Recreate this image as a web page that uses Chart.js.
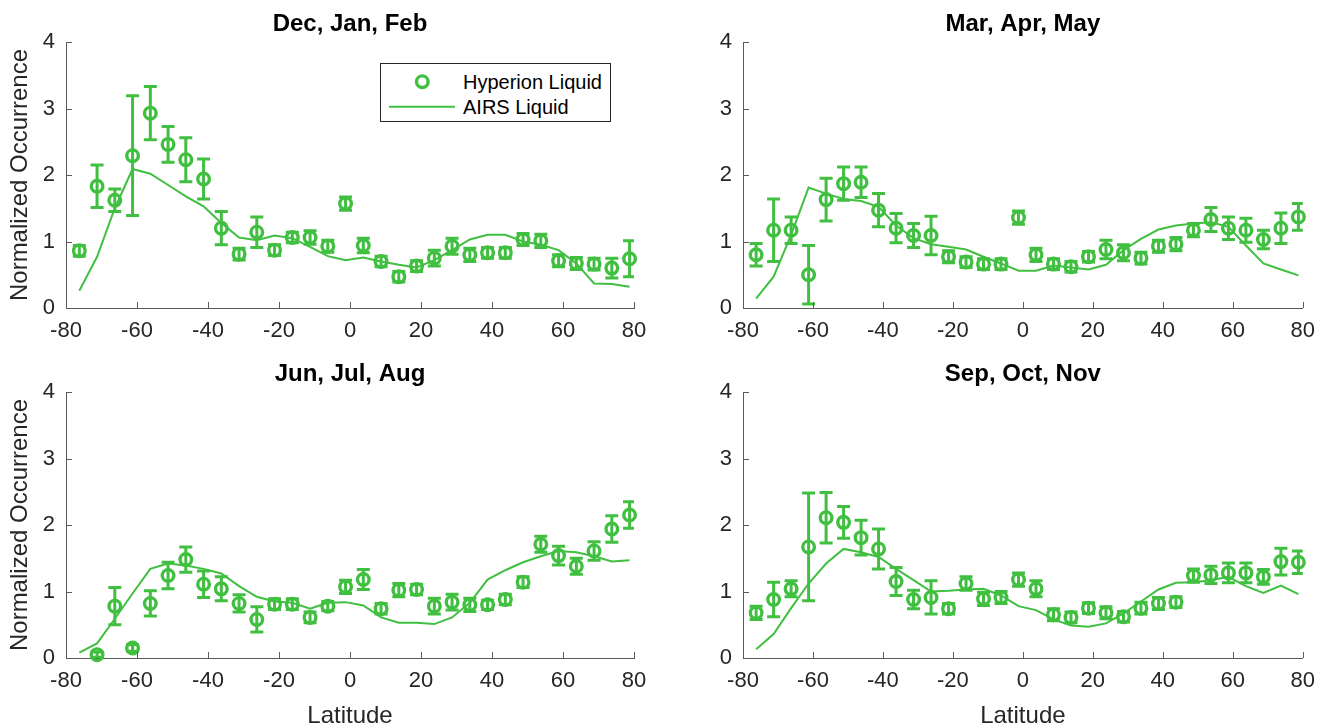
<!DOCTYPE html>
<html>
<head>
<meta charset="utf-8">
<script src="https://cdn.jsdelivr.net/npm/chart.js@4.4.1/dist/chart.umd.min.js"></script>
<style>
  html, body { margin: 0; padding: 0; background: #fff; overflow: hidden; }
  body { width: 1325px; height: 727px; position: relative; font-family: "Liberation Sans", Arial, Helvetica, sans-serif; }
  canvas { position: absolute; }
  #legend { position: absolute; left: 380px; top: 63px; width: 231px; height: 59px; box-sizing: border-box;
            border: 1px solid #262626; background: #fff; font-size: 20px; color: #000; }
  #legend svg { position: absolute; left: 0; top: 0; }
  #legend span { position: absolute; left: 82px; line-height: 24px; white-space: nowrap; }
</style>
</head>
<body>
<canvas id="djf" width="662" height="363" style="left:0;top:0"></canvas>
<canvas id="mam" width="635" height="363" style="left:690px;top:0"></canvas>
<canvas id="jja" width="662" height="377" style="left:0;top:350px"></canvas>
<canvas id="son" width="635" height="377" style="left:690px;top:350px"></canvas>

<div id="legend">
  <svg width="229" height="57">
    <circle cx="41.3" cy="17.7" r="5.8" fill="none" stroke="#40bf40" stroke-width="3.4"></circle>
    <line x1="8" y1="42.7" x2="74" y2="42.7" stroke="#40bf40" stroke-width="2"></line>
  </svg>
  <span style="top:5.7px">Hyperion Liquid</span>
  <span style="top:30.7px">AIRS Liquid</span>
</div>

<script>
// latitude bin centres
var lat = [-76.25, -71.25, -66.25, -61.25, -56.25, -51.25, -46.25, -41.25, -36.25, -31.25, -26.25,
           -21.25, -16.25, -11.25, -6.25, -1.25, 3.75, 8.75, 13.75, 18.75, 23.75, 28.75, 33.75,
           38.75, 43.75, 48.75, 53.75, 58.75, 63.75, 68.75, 73.75, 78.75];

// Dec, Jan, Feb
var djfHyperion = [0.86, 1.83, 1.62, 2.29, 2.93, 2.46, 2.23, 1.94, 1.20, 0.81, 1.14, 0.87, 1.06, 1.06, 0.93, 1.57,
                   0.94, 0.70, 0.47, 0.63, 0.75, 0.93, 0.80, 0.83, 0.83, 1.03, 1.01, 0.71, 0.67, 0.66, 0.60, 0.74];
var djfError    = [0.08, 0.32, 0.17, 0.90, 0.40, 0.27, 0.33, 0.30, 0.25, 0.09, 0.23, 0.08, 0.08, 0.10, 0.09, 0.10,
                   0.11, 0.08, 0.08, 0.08, 0.12, 0.12, 0.10, 0.08, 0.08, 0.09, 0.10, 0.09, 0.09, 0.09, 0.15, 0.27];
var djfAirs     = [0.26, 0.77, 1.50, 2.09, 2.02, 1.85, 1.68, 1.53, 1.28, 1.06, 1.02, 1.09, 1.05, 0.92, 0.78, 0.72,
                   0.76, 0.70, 0.65, 0.61, 0.72, 0.87, 1.03, 1.10, 1.10, 1.00, 0.95, 0.87, 0.67, 0.37, 0.36, 0.32];

// Mar, Apr, May
var mamHyperion = [0.80, 1.17, 1.17, 0.50, 1.63, 1.87, 1.89, 1.47, 1.20, 1.09, 1.09, 0.77, 0.69, 0.66, 0.66, 1.36,
                   0.80, 0.66, 0.62, 0.77, 0.88, 0.83, 0.75, 0.93, 0.96, 1.17, 1.33, 1.20, 1.17, 1.03, 1.20, 1.37];
var mamError    = [0.17, 0.47, 0.20, 0.44, 0.32, 0.25, 0.23, 0.25, 0.22, 0.18, 0.29, 0.09, 0.08, 0.08, 0.08, 0.10,
                   0.10, 0.08, 0.08, 0.08, 0.14, 0.12, 0.09, 0.09, 0.10, 0.10, 0.18, 0.17, 0.18, 0.14, 0.23, 0.20];
var mamAirs     = [0.14, 0.47, 1.10, 1.81, 1.72, 1.64, 1.61, 1.52, 1.24, 1.05, 0.96, 0.92, 0.88, 0.77, 0.67, 0.56,
                   0.56, 0.64, 0.61, 0.58, 0.65, 0.87, 1.04, 1.18, 1.24, 1.27, 1.29, 1.22, 0.94, 0.67, 0.58, 0.49];

// Jun, Jul, Aug
var jjaHyperion = [null, 0.05, 0.78, 0.15, 0.82, 1.24, 1.48, 1.11, 1.04, 0.82, 0.58, 0.81, 0.81, 0.61, 0.78, 1.07,
                   1.18, 0.74, 1.02, 1.03, 0.78, 0.84, 0.80, 0.80, 0.88, 1.14, 1.71, 1.54, 1.38, 1.61, 1.94, 2.15];
var jjaError    = [null, 0.04, 0.28, 0.05, 0.19, 0.20, 0.19, 0.20, 0.18, 0.13, 0.19, 0.08, 0.08, 0.08, 0.07, 0.10,
                   0.15, 0.08, 0.10, 0.08, 0.12, 0.12, 0.10, 0.07, 0.08, 0.08, 0.12, 0.14, 0.12, 0.14, 0.20, 0.20];
var jjaAirs     = [0.08, 0.22, 0.59, 0.97, 1.34, 1.42, 1.39, 1.34, 1.27, 1.08, 0.92, 0.85, 0.83, 0.74, 0.83, 0.84,
                   0.79, 0.61, 0.53, 0.53, 0.51, 0.61, 0.83, 1.18, 1.32, 1.44, 1.53, 1.61, 1.59, 1.53, 1.45, 1.47];

// Sep, Oct, Nov
var sonHyperion = [0.68, 0.88, 1.04, 1.67, 2.11, 2.04, 1.81, 1.64, 1.15, 0.88, 0.91, 0.74, 1.12, 0.89, 0.91, 1.18,
                   1.04, 0.65, 0.61, 0.75, 0.68, 0.62, 0.75, 0.82, 0.84, 1.24, 1.25, 1.28, 1.28, 1.22, 1.45, 1.44];
var sonError    = [0.10, 0.26, 0.12, 0.81, 0.38, 0.24, 0.26, 0.30, 0.21, 0.14, 0.25, 0.08, 0.10, 0.10, 0.09, 0.10,
                   0.12, 0.09, 0.08, 0.08, 0.09, 0.08, 0.09, 0.09, 0.08, 0.10, 0.13, 0.15, 0.15, 0.11, 0.20, 0.17];
var sonAirs     = [0.13, 0.36, 0.75, 1.12, 1.42, 1.64, 1.59, 1.52, 1.34, 1.17, 1.00, 1.01, 1.03, 1.04, 0.94, 0.78,
                   0.72, 0.58, 0.49, 0.47, 0.52, 0.67, 0.85, 1.03, 1.13, 1.14, 1.17, 1.22, 1.08, 0.98, 1.09, 0.96];

var green = '#40bf40';
var axisColor = '#5a5a5a';
var textColor = '#262626';

Chart.defaults.font.family = '"Liberation Sans", Arial, Helvetica, sans-serif';
Chart.defaults.color = textColor;

// vertical error bars with caps, drawn under the markers
var errorBars = {
  id: 'errorBars',
  beforeDatasetsDraw: function (chart) {
    var ctx = chart.ctx, a = chart.chartArea, y = chart.scales.y;
    ctx.save();
    ctx.beginPath();
    ctx.rect(a.left, a.top, a.right - a.left, a.bottom - a.top);
    ctx.clip();
    ctx.strokeStyle = green;
    ctx.lineWidth = 3;
    chart.data.datasets.forEach(function (ds, di) {
      if (!ds.errors) return;
      chart.getDatasetMeta(di).data.forEach(function (pt, i) {
        var v = ds.data[i].y, e = ds.errors[i];
        if (v == null || e == null) return;
        var top = y.getPixelForValue(v + e), bot = y.getPixelForValue(v - e);
        ctx.beginPath();
        ctx.moveTo(pt.x, top); ctx.lineTo(pt.x, bot);
        ctx.moveTo(pt.x - 6.5, top); ctx.lineTo(pt.x + 6.5, top);
        ctx.moveTo(pt.x - 6.5, bot); ctx.lineTo(pt.x + 6.5, bot);
        ctx.stroke();
      });
    });
    ctx.restore();
  }
};

// matlab style ticks pointing into the plot
var innerTicks = {
  id: 'innerTicks',
  afterDraw: function (chart) {
    var ctx = chart.ctx, a = chart.chartArea, x = chart.scales.x, y = chart.scales.y;
    ctx.save();
    ctx.strokeStyle = axisColor;
    ctx.lineWidth = 1;
    ctx.beginPath();
    x.ticks.forEach(function (t) {
      var px = Math.round(x.getPixelForValue(t.value)) + 0.5;
      ctx.moveTo(px, a.bottom); ctx.lineTo(px, a.bottom - 6);
    });
    y.ticks.forEach(function (t) {
      var py = Math.round(y.getPixelForValue(t.value)) + 0.5;
      ctx.moveTo(a.left, py); ctx.lineTo(a.left + 6, py);
    });
    ctx.stroke();
    ctx.restore();
  }
};

function points(vals) {
  return lat.map(function (x, i) { return {x: x, y: vals[i]}; });
}

function makeChart(id, title, hyp, err, airs, left, bottom) {
  var ctx = document.getElementById(id).getContext('2d');
  return new Chart(ctx, {
    type: 'scatter',
    data: {
      datasets: [{
        label: 'Hyperion Liquid',
        data: points(hyp),
        errors: err,
        showLine: false,
        pointRadius: 5.8,
        pointBorderWidth: 3.4,
        pointBorderColor: green,
        pointBackgroundColor: 'rgba(0,0,0,0)',
        clip: false
      }, {
        label: 'AIRS Liquid',
        data: points(airs),
        showLine: true,
        borderColor: green,
        borderWidth: 2,
        pointRadius: 0,
        tension: 0
      }]
    },
    options: {
      responsive: false,
      animation: false,
      events: [],
      layout: { padding: { left: 0, top: 0, bottom: 0, right: left ? 28 : 14 } },
      plugins: {
        legend: { display: false },
        tooltip: { enabled: false },
        title: {
          display: true,
          text: title,
          color: '#000',
          fullSize: false,  // centre the title over the plot area, not the whole canvas
          font: { size: 24, weight: 'bold' },
          padding: { top: 9.5, bottom: 3.7 }
        }
      },
      scales: {
        x: {
          type: 'linear',
          min: -80, max: 80,
          ticks: { stepSize: 20, padding: 10, font: { size: 22 }, color: textColor, maxRotation: 0, autoSkip: false },
          grid: { display: false, drawTicks: false },
          border: { display: true, color: axisColor, width: 1 },
          title: {
            display: bottom,
            text: 'Latitude',
            color: textColor,
            font: { size: 24, lineHeight: 0.9 },
            padding: { top: 0, bottom: 0 }
          },
          afterFit: function (s) { s.height = bottom ? 69 : 55; }
        },
        y: {
          min: 0, max: 4,
          ticks: { stepSize: 1, padding: 11, font: { size: 22 }, color: textColor },
          grid: { display: false, drawTicks: false },
          border: { display: true, color: axisColor, width: 1 },
          title: {
            display: left,
            text: 'Normalized Occurrence',
            color: textColor,
            font: { size: 24, lineHeight: 1.2 },
            padding: { top: 5.5, bottom: 0 }
          },
          afterFit: function (s) { s.width = left ? 66 : 53; }
        }
      }
    },
    plugins: [errorBars, innerTicks]
  });
}

makeChart('djf', 'Dec, Jan, Feb', djfHyperion, djfError, djfAirs, true, false);
makeChart('mam', 'Mar, Apr, May', mamHyperion, mamError, mamAirs, false, false);
makeChart('jja', 'Jun, Jul, Aug', jjaHyperion, jjaError, jjaAirs, true, true);
makeChart('son', 'Sep, Oct, Nov', sonHyperion, sonError, sonAirs, false, true);
</script>
</body>
</html>
